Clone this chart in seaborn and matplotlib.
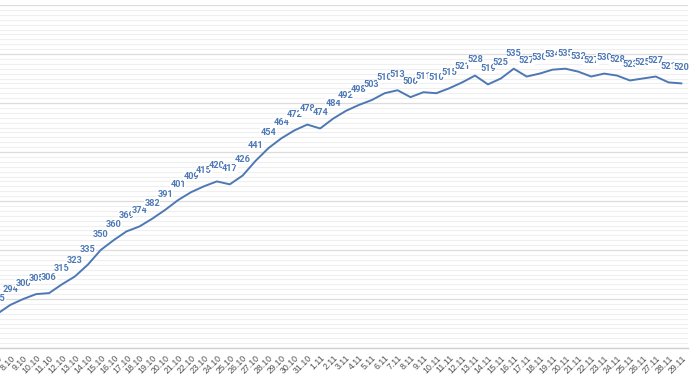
import numpy as np
import pandas as pd
import matplotlib
matplotlib.use("Agg")
import matplotlib.pyplot as plt
from matplotlib.ticker import MultipleLocator
import seaborn as sns

# =========================================================
# DATA
# =========================================================

dates = [f"{d}.10" for d in range(7, 32)] + [f"{d}.11" for d in range(1, 30)]

values = [
    285, 294, 300, 305, 306, 315, 323, 335, 350, 360,
    369, 374, 382, 391, 401, 409, 415, 420, 417, 426,
    441, 454, 464, 472, 478,
    474, 484, 492, 498, 503, 510, 513, 506, 511, 510,
    515, 521, 528, 519, 525, 535, 527, 530, 534, 535,
    532, 527, 530, 528, 523, 525, 527, 521, 520,
]

df = pd.DataFrame({"pos": np.arange(len(dates)), "date": dates, "value": values})

line_color = "#4d78b4"

# =========================================================
# FIGURE
# =========================================================

sns.set_style("white")
plt.rcParams["font.family"] = ["Roboto", "DejaVu Sans"]

fig = plt.figure(figsize=(7, 3.79), dpi=100)
# the source image is cropped on the left, so the axes start off-canvas
ax = fig.add_axes([-9 / 700, 31 / 379, 697 / 700, 343 / 379])

sns.lineplot(data=df, x="pos", y="value", color=line_color, linewidth=1.4, ax=ax, zorder=3)

ax.set_ylim(250, 600)
ax.set_xlim(-0.5, len(dates) - 0.5)
ax.yaxis.set_major_locator(MultipleLocator(50))
ax.yaxis.set_minor_locator(MultipleLocator(5))
ax.grid(which="major", axis="y", color="#dcdcdc", linewidth=0.9, zorder=0)
ax.grid(which="minor", axis="y", color="#efefef", linewidth=0.8, zorder=0)
ax.set_axisbelow(True)

ax.set_xticks(df["pos"])
ax.set_xticklabels(df["date"], rotation=45, ha="right", va="top",
                   rotation_mode="anchor", fontsize=6.3, color="#505050",
                   family=["Liberation Sans", "DejaVu Sans"])
ax.tick_params(axis="x", length=0, pad=4)
ax.tick_params(axis="y", which="both", length=0, labelleft=False)
ax.set_xlabel("")
ax.set_ylabel("")

for s in ["top", "right", "left"]:
    ax.spines[s].set_visible(False)
ax.spines["bottom"].set_color("#d0d0d0")
ax.spines["bottom"].set_linewidth(1.0)

# data labels
for p, v in zip(df["pos"], df["value"]):
    ax.annotate(str(v), (p, v), xytext=(0, 8), textcoords="offset points",
                ha="center", va="bottom", fontsize=6.6, fontweight="bold",
                color=line_color, zorder=4,
                bbox=dict(boxstyle="square,pad=0.02", fc="white", ec="none"))

fig.savefig("out.png", dpi=100)
